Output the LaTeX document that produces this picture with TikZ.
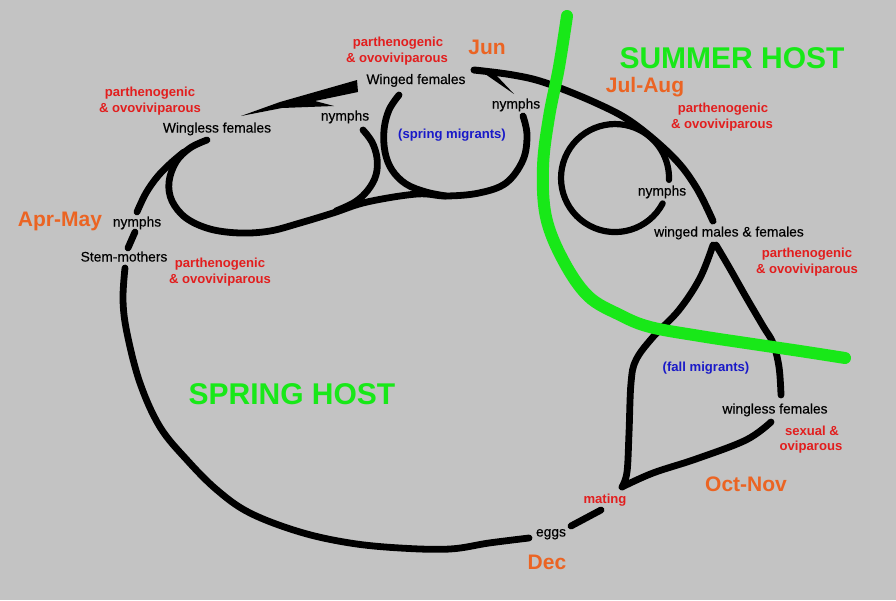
\documentclass[tikz,border=0pt]{standalone}
\usepackage{fontspec}
\setmainfont{Liberation Sans}
\newfontfamily\lblkfont[FakeBold=0.35]{Liberation Sans}
\definecolor{bg}{RGB}{195,195,195}
\definecolor{hostgreen}{RGB}{24,232,24}
\definecolor{orng}{RGB}{235,100,35}
\definecolor{redtxt}{RGB}{226,30,30}
\definecolor{bluetxt}{RGB}{25,25,200}
\tikzset{
  blk/.style={line width=6.8pt, black, line cap=round, line join=round},
  grn/.style={line width=12pt, hostgreen, line cap=round, line join=round},
  lblk/.style={font=\lblkfont\fontsize{13.8}{16}\selectfont, anchor=base, inner sep=0pt},
  lred/.style={font=\bfseries\fontsize{13.1}{16}\selectfont, text=redtxt, anchor=base, inner sep=0pt},
  lblue/.style={font=\bfseries\fontsize{13.1}{16}\selectfont, text=bluetxt, anchor=base, inner sep=0pt},
  lmonth/.style={font=\bfseries\fontsize{21}{24}\selectfont, text=orng, anchor=base, inner sep=0pt},
  lhost/.style={font=\bfseries\fontsize{30}{34}\selectfont, text=hostgreen, anchor=base, inner sep=0pt},
}
\begin{document}
\begin{tikzpicture}[x=1pt,y=-1pt]
\fill[bg] (0,0) rectangle (896,600);
\useasboundingbox (0,0) rectangle (896,600);

% ---- spring host cycle ----
% nymphs -> wingless females
\draw[blk] plot[smooth, tension=0.6] coordinates {(137,212) (146,193) (158,176) (172,162) (184,152)};
% stem-mothers -> nymphs
\draw[blk] (135,232) -- (128,248);
% big spring loop
\draw[blk] plot[smooth, tension=0.6] coordinates {(125,268) (123,300) (127,333) (140,383) (160,427) (187,460) (217,490) (250,513) (300,532) (350,543) (400,548) (450,549) (489,543) (529,538)};
% eggs -> mating
\draw[blk] (571,526) -- (601,510);

% wingless loop continuing into spring migrants circle
\draw[blk] plot[smooth, tension=0.6] coordinates {(207,140) (190,148) (176,162) (169,182) (172,201) (186,218) (210,229) (240,233) (270,231) (300,223) (333,213) (367,202) (417,194) (446,196) (479,193) (506,183) (523,160) (527,135) (523,116)};
% nymphs inner arc (left)
\draw[blk] plot[smooth, tension=0.6] coordinates {(363,130) (372,142) (377,158) (376,175) (368,190) (355,202) (336,211)};
% spring migrants circle left side
\draw[blk] plot[smooth, tension=0.6] coordinates {(399,95) (389,110) (384,130) (385,152) (392,170) (406,184) (426,192) (446,196)};

% arrow winged females -> wingless females
\fill[black] (241,116) -- (280,102) -- (357,80) -- (358,92) -- (315,101) -- (334,106) -- (282,108) -- cycle;

% big top arc Jun -> winged males & females
\draw[blk, line width=7pt] plot[smooth, tension=0.6] coordinates {(474,70) (513,75) (546,83) (596,103) (633,123) (673,157) (696,187) (713,221)};
\fill[black] (475,67) -- (496,75) -- (514,94) -- cycle;

% Jul-Aug circle
\draw[blk, line width=6.2pt] (662.7,203.4) arc[start angle=28, end angle=362, radius=54];

% teardrop (fall migrants)
\draw[blk] plot[smooth, tension=0.6] coordinates {(771,422) (746,440) (696,459) (653,473) (622,487)};
\draw[blk] plot[smooth, tension=0.6] coordinates {(622,487) (627,472) (629,433) (631,383) (636,360) (653,337) (679,310) (700,278) (713,245)};
\draw[blk] plot[smooth, tension=0.6] coordinates {(716,245) (729,267) (746,297) (763,326) (773,343) (779,367) (781,395)};

% host boundary
\draw[grn] plot[smooth, tension=0.6] coordinates {(567,16) (559,67) (549,117) (543,167) (546,217) (563,260) (588,296) (620,315) (650,327) (700,336) (746,343) (800,351) (845,358)};

% ---- labels ----
\node[lhost] (summer) at (732,68) {SUMMER HOST};
\node[lhost] (spring) at (292,404) {SPRING HOST};

\node[lmonth] (jun) at (487,54.5) {Jun};
\node[lmonth] (julaug) at (645,92) {Jul-Aug};
\node[lmonth] (aprmay) at (60,226) {Apr-May};
\node[lmonth] (octnov) at (746,491) {Oct-Nov};
\node[lmonth] (dec) at (547,569) {Dec};

\node[lblk] (wingedf) at (416,84) {Winged females};
\node[lblk] (nym1) at (516,108.5) {nymphs};
\node[lblk] (winglessf) at (217,132.5) {Wingless females};
\node[lblk] (nym2) at (345,120.5) {nymphs};
\node[lblk] (nym3) at (137,226.5) {nymphs};
\node[lblk] (stem) at (124,261.5) {Stem-mothers};
\node[lblk] (nym4) at (662,195.5) {nymphs};
\node[lblk] (wmf) at (729,236.5) {winged males \& females};
\node[lblk] (wlf) at (775,413.5) {wingless females};
\node[lblk] (eggs) at (551,536.5) {eggs};

\node[lred] (p1a) at (398,46.5) {parthenogenic};
\node[lred] (p1b) at (397,62.5) {\& ovoviviparous};
\node[lred] (p2a) at (150,96.5) {parthenogenic};
\node[lred] (p2b) at (150,112.5) {\& ovoviviparous};
\node[lred] (p3a) at (220,267.5) {parthenogenic};
\node[lred] (p3b) at (220,283.5) {\& ovoviviparous};
\node[lred] (p4a) at (723,112.5) {parthenogenic};
\node[lred] (p4b) at (722,128.5) {\& ovoviviparous};
\node[lred] (p5a) at (807,257.5) {parthenogenic};
\node[lred] (p5b) at (807,273.5) {\& ovoviviparous};
\node[lred] (sx1) at (812,435.5) {sexual \&};
\node[lred] (sx2) at (811,450.5) {oviparous};
\node[lred] (mating) at (605,503) {mating};

\node[lblue] (springmig) at (452,138.5) {(spring migrants)};
\node[lblue] (fallmig) at (706,371.5) {(fall migrants)};
\end{tikzpicture}
\end{document}
